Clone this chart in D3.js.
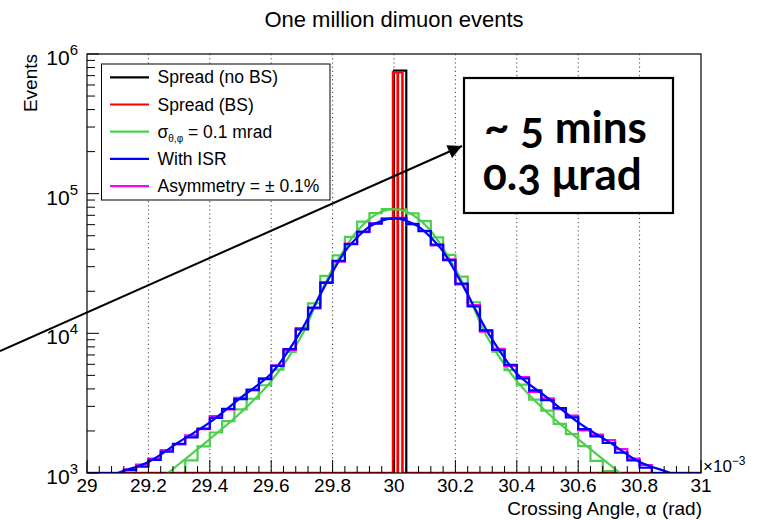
<!DOCTYPE html>
<html>
<head>
<meta charset="utf-8">
<script src="https://cdn.jsdelivr.net/npm/d3@7"></script>
<style>
  html, body { margin: 0; padding: 0; background: #fff; }
  svg { display: block; }
  text { font-family: "Liberation Sans", Arial, Helvetica, sans-serif; fill: #000; }
</style>
</head>
<body>
<svg id="chart" width="762" height="520"></svg>
<script>
// ---- binning of the crossing-angle histograms (units of 1e-3 rad) ----
const binLow = 29.0;
const binWidth = 0.04;

// counts per 0.04e-3 rad bin, 50 bins from 29.00 to 31.00
const countsISR = [
  780, 880, 960, 1050, 1110, 1240, 1420, 1620, 1800, 2080,
  2480, 2880, 3380, 3950, 4700, 5850, 7700, 10700, 15300, 23000,
  33000, 43500, 53500, 61000, 66300,
  66600, 60700, 53900, 43100, 33400, 22700, 15600, 10500, 7600, 5950,
  4750, 3900, 3330, 2920, 2500, 2060, 1830, 1640, 1400, 1230,
  1090, 980, 950, 870, 770
];
const countsAsym = [
  790, 870, 970, 1060, 1150, 1270, 1460, 1600, 1860, 2060,
  2550, 2850, 3450, 3900, 4780, 5900, 7600, 10900, 15100, 23300,
  32600, 43900, 53100, 61400, 66000,
  67000, 60300, 54200, 42700, 33800, 22400, 15900, 10300, 7750, 5850,
  4850, 3800, 3420, 2870, 2580, 2020, 1880, 1720, 1480, 1270,
  1140, 990, 960, 860, 780
];
const countsSigma = [
  150, 200, 280, 370, 480, 620, 760, 960, 1230, 1550,
  1950, 2350, 2850, 3400, 4250, 5500, 7350, 10600, 16400, 25800,
  36200, 49100, 63000, 72600, 77500,
  77300, 72200, 63500, 48700, 36500, 25500, 16700, 10500, 7400, 5450,
  4300, 3350, 2800, 2250, 1900, 1560, 1220, 1030, 900, 720,
  560, 430, 330, 240, 170
];

// narrow spread histograms: bin edges and counts
const spreadNoBSEdges = [29.0, 30.0, 30.04, 31.0];
const spreadNoBSCounts = [0, 760000, 0];
const spreadBSEdges = [29.0, 29.997, 30.012, 30.0125, 30.0275, 31.0];
const spreadBSCounts = [0, 740000, 0, 740000, 0];

// smooth fitted curves: angle (1e-3 rad) and events
const fitISRx = [29.06, 29.10, 29.20, 29.30, 29.40, 29.50, 29.60, 29.69, 29.76, 29.80, 29.84, 29.88, 29.92, 29.96, 30.00,
                 30.04, 30.08, 30.12, 30.16, 30.20, 30.24, 30.31, 30.40, 30.50, 30.60, 30.70, 30.80, 30.90, 30.94];
const fitISRy = [900, 1000, 1200, 1670, 2300, 3450, 5150, 9800, 19000, 27500, 38500, 48500, 58000, 64000, 66800,
                 64000, 58000, 48500, 38500, 27500, 19000, 9800, 5150, 3450, 2300, 1670, 1200, 1000, 900];
const fitSigmax = [29.22, 29.264, 29.30, 29.40, 29.50, 29.60, 29.70, 29.76, 29.80, 29.84, 29.88, 29.92, 29.96, 30.00,
                   30.04, 30.08, 30.12, 30.16, 30.20, 30.24, 30.30, 30.40, 30.50, 30.60, 30.70, 30.736, 30.78];
const fitSigmay = [850, 1000, 1160, 1750, 2700, 4550, 9700, 19300, 29000, 40500, 54000, 66000, 74500, 77600,
                   74500, 66000, 54000, 40500, 29000, 19300, 9700, 4550, 2700, 1750, 1160, 1000, 850];

// axes
const xMajorTicks = [29, 29.2, 29.4, 29.6, 29.8, 30, 30.2, 30.4, 30.6, 30.8, 31];
const xTickLabels = ["29", "29.2", "29.4", "29.6", "29.8", "30", "30.2", "30.4", "30.6", "30.8", "31"];
const yDecades = [3, 4, 5, 6];

// legend
const legendLabels = ["Spread (no BS)", "Spread (BS)", "SIGMA", "With ISR", "Asymmetry = \u00b1 0.1%"];
const legendColors = ["#000000", "#ff0000", "#4ccf4c", "#0000ff", "#ff00ff"];

// annotation
const noteLines = ["~ 5 mins", "0.3 \u03bcrad"];

// ---- layout ----
const svg = d3.select("#chart");
const plot = { left: 87, right: 701, top: 54, bottom: 473 };

const x = d3.scaleLinear().domain([29, 31]).range([plot.left, plot.right]);
const y = d3.scaleLog().domain([1e3, 1e6]).range([plot.bottom, plot.top]);
const yc = v => y(Math.max(v, 1e3));

const colISR = "#0000ff", colAsym = "#ff00ff", colSigma = "#4ccf4c";

const defs = svg.append("defs");
defs.append("clipPath").attr("id", "plotClip")
  .append("rect").attr("x", plot.left).attr("y", plot.top)
  .attr("width", plot.right - plot.left).attr("height", plot.bottom - plot.top);

// title
svg.append("text").attr("x", 394).attr("y", 27).attr("text-anchor", "middle")
  .style("font-size", "22px").text("One million dimuon events");

// vertical dotted grid
svg.append("g").selectAll("line").data(xMajorTicks.slice(1, -1)).join("line")
  .attr("x1", d => x(d)).attr("x2", d => x(d))
  .attr("y1", plot.top).attr("y2", plot.bottom)
  .attr("stroke", "#444").attr("stroke-width", 1).attr("stroke-dasharray", "1.2,3");

// histogram outlines
function stepPath(edges, counts) {
  let p = `M${x(edges[0])},${plot.bottom}`;
  counts.forEach((c, i) => {
    p += `V${yc(c)}H${x(edges[i + 1])}`;
  });
  p += `V${plot.bottom}`;
  return p;
}
function binnedPath(counts) {
  const edges = [binLow].concat(counts.map((c, i) => binLow + (i + 1) * binWidth));
  return stepPath(edges, counts);
}

const g = svg.append("g").attr("clip-path", "url(#plotClip)");
const histStyle = (sel, col) => sel.attr("fill", "none").attr("stroke", col)
  .attr("stroke-width", 2.2).attr("stroke-linejoin", "miter");
const line = d3.line().x(d => x(d[0])).y(d => y(d[1])).curve(d3.curveCatmullRom.alpha(0.5));

histStyle(g.append("path").attr("d", stepPath(spreadNoBSEdges, spreadNoBSCounts)), "#000");
histStyle(g.append("path").attr("d", binnedPath(countsSigma)), colSigma);
histStyle(g.append("path").attr("d", stepPath(spreadBSEdges, spreadBSCounts)), "#ff0000").attr("stroke-width", 2.6);
g.append("path").attr("d", line(fitSigmax.map((v, i) => [v, fitSigmay[i]])))
  .attr("fill", "none").attr("stroke", colSigma).attr("stroke-width", 2.2);
histStyle(g.append("path").attr("d", binnedPath(countsAsym)), colAsym);
histStyle(g.append("path").attr("d", binnedPath(countsISR)), colISR);
g.append("path").attr("d", line(fitISRx.map((v, i) => [v, fitISRy[i]])))
  .attr("fill", "none").attr("stroke", colISR).attr("stroke-width", 2.2);

// frame
svg.append("rect").attr("x", plot.left).attr("y", plot.top)
  .attr("width", plot.right - plot.left).attr("height", plot.bottom - plot.top)
  .attr("fill", "none").attr("stroke", "#000").attr("stroke-width", 1.2);

// x axis ticks
const xMinor = d3.range(0, 51).map(i => 29 + i * 0.04);
svg.append("g").selectAll("line").data(xMinor).join("line")
  .attr("x1", d => x(d)).attr("x2", d => x(d))
  .attr("y1", plot.bottom).attr("y2", (d, i) => plot.bottom - (i % 5 === 0 ? 13 : 7))
  .attr("stroke", "#000").attr("stroke-width", 1);
svg.append("g").selectAll("text").data(xMajorTicks).join("text")
  .attr("x", d => x(d)).attr("y", 492).attr("text-anchor", "middle")
  .style("font-size", "19px").text((d, i) => xTickLabels[i]);

// x10^-3 multiplier
const mult = svg.append("text").attr("x", 703).attr("y", 472).style("font-size", "17px");
mult.append("tspan").text("\u00d710");
mult.append("tspan").attr("dy", -7).style("font-size", "12px").text("\u22123");

// x axis title
svg.append("text").attr("x", 702).attr("y", 515).attr("text-anchor", "end")
  .style("font-size", "19px").text("Crossing Angle, \u03b1 (rad)");

// y axis ticks (log)
const yTicks = [];
yDecades.forEach((e, i) => {
  yTicks.push({ v: Math.pow(10, e), major: true });
  if (i < yDecades.length - 1) for (let k = 2; k <= 9; k++) yTicks.push({ v: k * Math.pow(10, e), major: false });
});
svg.append("g").selectAll("line").data(yTicks).join("line")
  .attr("x1", plot.left).attr("x2", d => plot.left + (d.major ? 12 : 8))
  .attr("y1", d => y(d.v)).attr("y2", d => y(d.v))
  .attr("stroke", "#000").attr("stroke-width", 1);
const yl = svg.append("g").selectAll("text").data(yDecades).join("text")
  .attr("x", 78).attr("y", d => y(Math.pow(10, d)) + 11).attr("text-anchor", "end")
  .style("font-size", "21px");
yl.append("tspan").text("10");
yl.append("tspan").attr("dy", -10).style("font-size", "15px").text(d => d);

// y axis title
svg.append("text").attr("transform", "translate(37,54) rotate(-90)").attr("text-anchor", "end")
  .style("font-size", "19px").text("Events");

// legend
const lg = svg.append("g");
lg.append("rect").attr("x", 101.5).attr("y", 64).attr("width", 228.5).attr("height", 136)
  .attr("fill", "#fff").attr("stroke", "#000").attr("stroke-width", 1);
legendLabels.forEach((lab, i) => {
  const cy = 77.3 + 27.2 * i;
  lg.append("line").attr("x1", 110).attr("x2", 149).attr("y1", cy).attr("y2", cy)
    .attr("stroke", legendColors[i]).attr("stroke-width", 2.2);
  const t = lg.append("text").attr("x", 157.5).attr("y", cy + 6).style("font-size", "17.5px");
  if (lab === "SIGMA") {
    t.append("tspan").text("\u03c3");
    t.append("tspan").attr("dy", 4).style("font-size", "10px").text("\u03b8,\u03c6");
    t.append("tspan").attr("dy", -4).text(" = 0.1 mrad");
  } else {
    t.text(lab);
  }
});

// annotation arrow and box
defs.append("marker").attr("id", "arrowHead").attr("viewBox", "0 0 10 10")
  .attr("refX", 10).attr("refY", 5).attr("markerWidth", 8).attr("markerHeight", 7)
  .attr("orient", "auto").attr("markerUnits", "strokeWidth")
  .append("path").attr("d", "M0,0L10,5L0,10Z").attr("fill", "#000");
svg.append("line").attr("x1", 0).attr("y1", 351).attr("x2", 462).attr("y2", 146)
  .attr("stroke", "#000").attr("stroke-width", 2).attr("marker-end", "url(#arrowHead)");

svg.append("rect").attr("x", 464).attr("y", 78).attr("width", 209).attr("height", 135)
  .attr("fill", "#fff").attr("stroke", "#000").attr("stroke-width", 2.2);
const note = svg.append("text")
  .style("font-family", "Lato, 'Open Sans', sans-serif")
  .style("font-weight", "bold").style("font-size", "44px")
  .style("font-variant-numeric", "oldstyle-nums")
  .style("font-feature-settings", "'onum' 1");
note.append("tspan").attr("x", 484).attr("y", 143).text(noteLines[0]);
note.append("tspan").attr("x", 483).attr("y", 190).text(noteLines[1]);
</script>
</body>
</html>
